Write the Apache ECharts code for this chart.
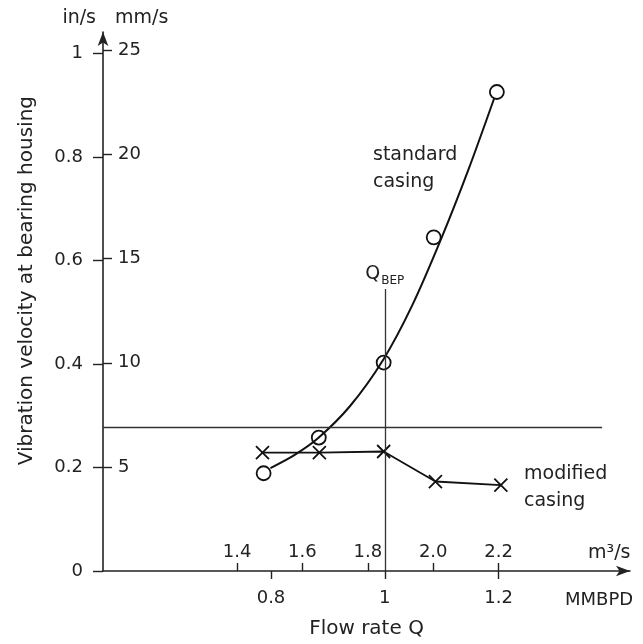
<!DOCTYPE html>
<html>
<head>
<meta charset="utf-8">
<script src="https://cdn.jsdelivr.net/npm/echarts@6/dist/echarts.min.js"></script>
<style>
  html, body { margin: 0; background: #fff; }
  #chart { width: 643px; height: 644px; }
</style>
</head>
<body>
<div id="chart"></div>
<script>
// flow rate in MMBPD, vibration velocity in in/s
// measured points, standard casing (circles)
const flowStandard = [0.787, 0.884, 0.998, 1.086, 1.197];
const velStandard = [0.189, 0.258, 0.403, 0.645, 0.926];
// drawn curve through them
const flowCurve = [0.799, 0.841, 0.883, 0.939, 0.997, 1.048, 1.099, 1.147, 1.192];
const velCurve = [0.199, 0.224, 0.257, 0.319, 0.408, 0.513, 0.642, 0.776, 0.913];
// modified casing (crosses)
const flowModified = [0.785, 0.885, 0.998, 1.089, 1.204];
const velModified = [0.229, 0.229, 0.231, 0.173, 0.166];

// axis ticks
const mmbpdTicks = [0.8, 1, 1.2];
const m3sTicks = [1.4, 1.6, 1.8, 2.0, 2.2];
const inTicks = [0, 0.2, 0.4, 0.6, 0.8, 1];
const mmTicks = [5, 10, 15, 20, 25];

// reference lines
const limitLevel = 0.277;
const limitEnd = 1.382;
const qBep = 1;
const qBepTop = 0.545;

const FONT = 'DejaVu Sans';
const INK = '#222';

const chart = echarts.init(document.getElementById('chart'));

const zip = (xs, ys) => xs.map((x, i) => [x, ys[i]]);

const option = {
  backgroundColor: '#fff',
  animation: false,
  textStyle: { fontFamily: FONT, color: INK },
  grid: { left: 103, right: 13, top: 32, bottom: 71, containLabel: false },
  xAxis: [
    {
      type: 'value',
      min: 0.5047,
      max: 1.431,
      position: 'bottom',
      name: 'Flow rate Q',
      nameLocation: 'middle',
      nameGap: 48,
      nameTextStyle: { fontFamily: FONT, fontSize: 20, color: INK },
      splitLine: { show: false },
      axisLine: {
        show: true,
        symbol: ['none', 'arrow'],
        symbolSize: [8, 14],
        lineStyle: { color: INK, width: 1.6 }
      },
      axisTick: { show: true, length: 8, customValues: mmbpdTicks, lineStyle: { color: INK, width: 1.4 } },
      axisLabel: {
        customValues: mmbpdTicks,
        margin: 18,
        fontFamily: FONT, fontSize: 18, color: INK,
        formatter: v => String(v)
      }
    },
    {
      type: 'value',
      min: 0.990,
      max: 2.602,
      position: 'bottom',
      splitLine: { show: false },
      axisLine: { show: false },
      axisTick: { show: true, inside: true, length: 8, customValues: m3sTicks, lineStyle: { color: INK, width: 1.4 } },
      axisLabel: {
        inside: true,
        customValues: m3sTicks,
        margin: 10,
        fontFamily: FONT, fontSize: 18, color: INK,
        formatter: v => v.toFixed(1)
      }
    }
  ],
  yAxis: [
    {
      type: 'value',
      min: 0,
      max: 1.042,
      position: 'left',
      name: 'in/s',
      nameLocation: 'end',
      nameGap: 4,
      nameTextStyle: { fontFamily: FONT, fontSize: 19, color: INK, align: 'right', padding: [0, 7, 0, 0] },
      splitLine: { show: false },
      axisLine: {
        show: true,
        symbol: ['none', 'arrow'],
        symbolSize: [8, 14],
        lineStyle: { color: INK, width: 1.6 }
      },
      axisTick: { show: true, length: 10, customValues: inTicks, lineStyle: { color: INK, width: 1.4 } },
      axisLabel: {
        customValues: inTicks,
        margin: 20,
        fontFamily: FONT, fontSize: 18, color: INK,
        formatter: v => String(v)
      }
    },
    {
      type: 'value',
      min: 0,
      max: 25.89,
      position: 'left',
      name: 'mm/s',
      nameLocation: 'end',
      nameGap: 4,
      nameTextStyle: { fontFamily: FONT, fontSize: 19, color: INK, align: 'left', padding: [0, 0, 0, 12] },
      splitLine: { show: false },
      axisLine: { show: false },
      axisTick: { show: true, inside: true, length: 9, customValues: mmTicks, lineStyle: { color: INK, width: 1.4 } },
      axisLabel: {
        inside: true,
        customValues: mmTicks,
        margin: 15,
        fontFamily: FONT, fontSize: 18, color: INK,
        formatter: v => String(v)
      }
    }
  ],
  graphic: [
    { type: 'text', left: 17, top: 96, rotation: Math.PI / 2, style: { text: 'Vibration velocity at bearing housing', font: '20px "DejaVu Sans"', fill: INK } },
    { type: 'text', left: 565, top: 591, style: { text: 'MMBPD', font: '18px "DejaVu Sans"', fill: INK } },
    { type: 'text', left: 588, top: 544, style: { text: 'm³/s', font: '19px "DejaVu Sans"', fill: INK } },
    { type: 'text', left: 373, top: 142, style: { text: 'standard\ncasing', font: '19px "DejaVu Sans"', fill: INK, lineHeight: 27 } },
    { type: 'text', left: 524, top: 461, style: { text: 'modified\ncasing', font: '19px "DejaVu Sans"', fill: INK, lineHeight: 27 } }
  ],
  series: [
    {
      name: 'standard curve',
      type: 'line',
      xAxisIndex: 0,
      yAxisIndex: 0,
      data: zip(flowCurve, velCurve),
      smooth: 0.3,
      showSymbol: false,
      symbol: 'none',
      lineStyle: { color: '#111', width: 2 },
      markLine: {
        silent: true,
        symbol: ['none', 'none'],
        lineStyle: { color: '#333', width: 1.3, type: 'solid' },
        label: { show: false },
        data: [
          [{ coord: [0.5047, limitLevel] }, { coord: [limitEnd, limitLevel] }],
          [
            {
              coord: [qBep, 0],
              label: {
                show: true,
                position: 'end',
                distance: 6,
                formatter: '{q|Q}{s|BEP}',
                rich: {
                  q: { fontFamily: FONT, fontSize: 19, color: INK, verticalAlign: 'bottom' },
                  s: { fontFamily: FONT, fontSize: 12, color: INK, verticalAlign: 'bottom', padding: [0, 0, -4, 1] }
                }
              }
            },
            { coord: [qBep, qBepTop] }
          ]
        ]
      }
    },
    {
      name: 'standard casing',
      type: 'scatter',
      xAxisIndex: 0,
      yAxisIndex: 0,
      data: zip(flowStandard, velStandard),
      symbol: 'circle',
      symbolSize: 14,
      z: 3,
      itemStyle: { color: 'rgba(255,255,255,0)', borderColor: '#111', borderWidth: 1.8, opacity: 1 }
    },
    {
      name: 'modified casing',
      type: 'line',
      xAxisIndex: 0,
      yAxisIndex: 0,
      data: zip(flowModified, velModified),
      symbol: 'path://M0,0L10,10M10,0L0,10',
      symbolSize: 13,
      itemStyle: { color: 'none', borderColor: '#111', borderWidth: 1.8 },
      lineStyle: { color: '#111', width: 1.8 }
    }
  ]
};

chart.setOption(option);
</script>
</body>
</html>
